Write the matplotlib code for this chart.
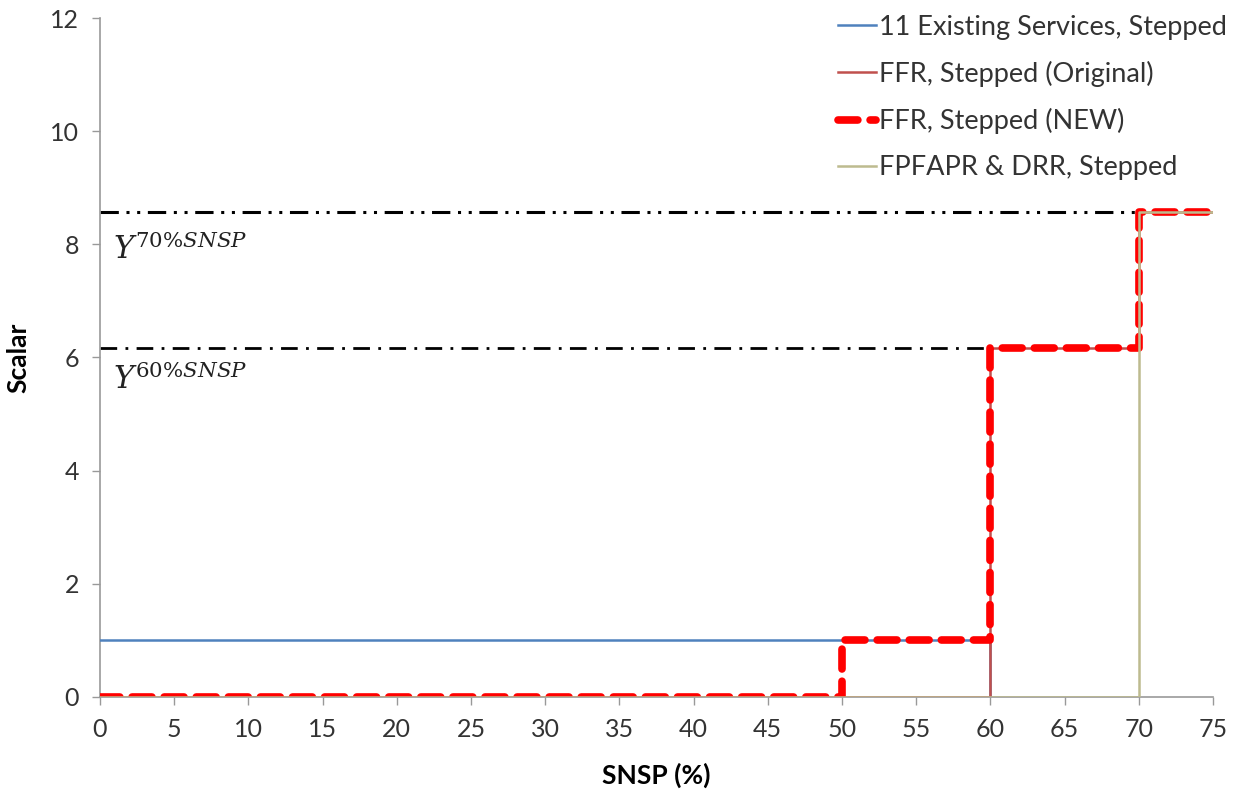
import matplotlib
matplotlib.use("Agg")
import matplotlib.pyplot as plt

plt.rcParams['font.family'] = ['Lato', 'DejaVu Sans']
plt.rcParams['mathtext.fontset'] = 'dejavuserif'

# Data
blue_x = [0, 60, 60]
blue_y = [1.0, 0.0, 0.0]
ffr_orig_x = [0, 60, 70, 75]
ffr_orig_y = [0.0, 6.17, 8.57, 8.57]
ffr_new_x = [0, 50, 60, 70, 75]
ffr_new_y = [0.0, 1.0, 6.17, 8.57, 8.57]
green_x = [0, 70, 75]
green_y = [0.0, 8.57, 8.57]
y70 = 8.57
y70_end = 70
y60 = 6.17
y60_end = 60
xticks = list(range(0, 80, 5))
yticks = list(range(0, 14, 2))

fig = plt.figure(figsize=(12.34, 8.01), dpi=100)
ax = fig.add_axes([0.081, 0.130, 0.902, 0.8475])

# reference lines
ax.plot([0, y70_end], [y70, y70], color='black', lw=2.2,
        dashes=(6, 2.5, 1, 2.5, 1, 2.5), zorder=2)
ax.plot([0, y60_end], [y60, y60], color='black', lw=2.0,
        dashes=(6, 3, 1, 3), zorder=2)

l1, = ax.step(blue_x, blue_y, where='post', color='#4F81BD', lw=1.8,
              label='11 Existing Services, Stepped', zorder=3)
l2, = ax.step(ffr_orig_x, ffr_orig_y, where='post', color='#C0504D', lw=1.8,
              label='FFR, Stepped (Original)', zorder=3)
l3, = ax.step(ffr_new_x, ffr_new_y, where='post', color='#FF0000', lw=5.5,
              dashes=(2.6, 1.6), dash_capstyle='round', solid_joinstyle='round',
              label='FFR, Stepped (NEW)', zorder=4)
l4, = ax.step(green_x, green_y, where='post', color='#BDBB8F', lw=1.8,
              label='FPFAPR & DRR, Stepped', zorder=5)

ax.text(0.9, 7.93, r'$Y^{70\%SNSP}$', fontsize=22, color='#222222',
        ha='left', va='center')
ax.text(0.9, 5.63, r'$Y^{60\%SNSP}$', fontsize=22, color='#222222',
        ha='left', va='center')

ax.set_xlim(0, 75)
ax.set_ylim(0, 12)
ax.set_xticks(xticks)
ax.set_yticks(yticks)
ax.tick_params(axis='both', labelsize=18, colors='#333333', length=6,
               width=1, direction='out', pad=9)
ax.tick_params(axis='both', color='#999999')
for s in ['top', 'right']:
    ax.spines[s].set_visible(False)
for s in ['left', 'bottom']:
    ax.spines[s].set_color('#999999')
    ax.spines[s].set_linewidth(1.2)

ax.set_xlabel('SNSP (%)', fontsize=19, fontweight='bold', labelpad=16)
ax.set_ylabel('Scalar', fontsize=19, fontweight='bold', labelpad=14)

leg = ax.legend(handles=[l1, l2, l3, l4], loc='upper right',
                bbox_to_anchor=(1.022, 1.021), frameon=False, fontsize=19.5,
                handlelength=1.4, handletextpad=0.1, labelspacing=0.78,
                borderaxespad=0.0)
for t in leg.get_texts():
    t.set_color('#333333')

fig.savefig('out.png', dpi=100)
